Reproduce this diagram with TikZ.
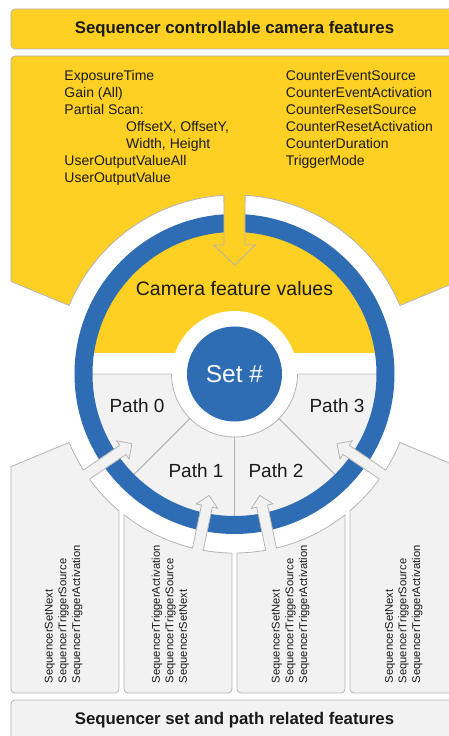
\documentclass[tikz,border=0pt]{standalone}
\usepackage{fontspec}
\setmainfont{Liberation Sans}
\usepackage{tikz}
\usetikzlibrary{calc}

\definecolor{seqyellow}{HTML}{FDD023}
\definecolor{seqblue}{HTML}{2E6DB4}
\definecolor{seqgray}{HTML}{F2F2F2}
\definecolor{seqline}{HTML}{B4B4B4}
\definecolor{seqtext}{HTML}{1A1A1A}

\begin{document}
\begin{tikzpicture}[x=1pt,y=1pt,
	yellowbox/.style={fill=seqyellow,draw=seqline,line width=0.8pt},
	graybox/.style={fill=seqgray,draw=seqline,line width=0.8pt},
	feat/.style={anchor=base west,inner sep=0pt,text=seqtext,font=\fontsize{14}{16.9}\selectfont},
	vfeat/.style={rotate=90,anchor=west,inner sep=0pt,text=seqtext,font=\fontsize{11.2}{13}\selectfont},
	pathlabel/.style={text=seqtext,font=\fontsize{19}{22}\selectfont},
	titlelabel/.style={text=seqtext,font=\fontsize{16.8}{20}\selectfont\bfseries},
	arrowcut/.style={insert path={-- ($(#1:179)+(#1-90:5.5)$) -- ($(#1:135)+(#1-90:5.5)$)
		-- ($(#1:135)+(#1-90:11)$) -- (#1:124) -- ($(#1:135)+(#1+90:11)$)
		-- ($(#1:135)+(#1+90:5.5)$) -- ($(#1:179)+(#1+90:5.5)$)}}]
				 %\draw[color=gray,step=10pt, help lines,opacity=0.3] (-234.5,-362) grid (214.5,374); %help grids
				 \useasboundingbox (-234.5,-362) rectangle (214.5,374);
				 \clip (-234.5,-362) rectangle (214.5,374);
				 % top bar
				 \draw[yellowbox,rounded corners=4pt] (-223.5,325) rectangle (223.5,365);
				 \node[titlelabel] (camtitle) at (0,345) {Sequencer controllable camera features};
				 % inside of the wheel
				 \fill[seqyellow] (8.05:150) arc[start angle=8.05,end angle=171.95,radius=150] -- cycle;
				 \fill[white] (0,0) circle (63);
				 \foreach \a in {180,225,270,315}
				 	\draw[graybox] (\a:63) -- (\a:150) arc[start angle=\a,end angle=\a+45,radius=150]
				 	-- (\a+45:63) arc[start angle=\a+45,end angle=\a,radius=63] -- cycle;
				 \node[circle,fill=seqblue,minimum size=95pt,inner sep=0pt,text=white,
				 	font=\fontsize{24.5}{28}\selectfont] (setnr) at (0,0) {Set \#};
				 \fill[seqblue,even odd rule] (0,0) circle (160) (0,0) circle (142);
				 % camera feature area with the big arrow
				 \draw[yellowbox] (-223.5,92.6) [rounded corners=4pt] -- (-223.5,318) -- (223.5,318)
				 	-- (223.5,92.6) [sharp corners] -- (22.5:179) arc[start angle=22.5,end angle=86.6,radius=179]
				 	-- (10.5,129) -- (21,129) -- (0,109) -- (-21,129) -- (-10.5,129)
				 	-- (93.4:179) arc[start angle=93.4,end angle=157.5,radius=179] -- cycle;
				 % path boxes with their arrows
				 \draw[graybox] (-223.5,-92.6) -- (202.5:179) arc[start angle=202.5,end angle=212.44,radius=179]
				 	[arrowcut=214.2] arc[start angle=215.96,end angle=229.8,radius=179]
				 	-- (-115.5,-300) [rounded corners=4pt] -- (-115.5,-319) -- (-223.5,-319) -- (-223.5,-300) [sharp corners] -- cycle;
				 \draw[graybox] (231.9:179) arc[start angle=231.9,end angle=256.44,radius=179]
				 	[arrowcut=258.2] arc[start angle=259.96,end angle=269.2,radius=179]
				 	-- (-2.5,-300) [rounded corners=4pt] -- (-2.5,-319) -- (-110.5,-319) -- (-110.5,-300) [sharp corners] -- cycle;
				 \draw[graybox] (270.8:179) arc[start angle=270.8,end angle=280.04,radius=179]
				 	[arrowcut=281.8] arc[start angle=283.56,end angle=308.1,radius=179]
				 	-- (110.5,-300) [rounded corners=4pt] -- (110.5,-319) -- (2.5,-319) -- (2.5,-300) [sharp corners] -- cycle;
				 \draw[graybox] (310.2:179) arc[start angle=310.2,end angle=324.04,radius=179]
				 	[arrowcut=325.8] arc[start angle=327.56,end angle=337.5,radius=179]
				 	-- (223.5,-92.6) -- (223.5,-300) [rounded corners=4pt] -- (223.5,-319) -- (115.5,-319) -- (115.5,-300) [sharp corners] -- cycle;
				 % bottom bar
				 \draw[graybox,rounded corners=4pt] (-223.5,-326) rectangle (223.5,-400);
				 \node[titlelabel] (pathtitle) at (0,-346) {Sequencer set and path related features};
				 % labels
				 \node[text=seqtext,font=\fontsize{19.5}{23}\selectfont] (values) at (0,85) {Camera feature values};
				 \node[pathlabel] (path0) at (-97.5,-32) {Path 0};
				 \node[pathlabel] (path1) at (-38.5,-97) {Path 1};
				 \node[pathlabel] (path2) at (41.5,-97) {Path 2};
				 \node[pathlabel] (path3) at (102.5,-32) {Path 3};
				 \node[feat] (f1) at (-170.2,293.3) {ExposureTime};
				 \node[feat] (f2) at (-170.2,276.4) {Gain (All)};
				 \node[feat] (f3) at (-170.2,259.5) {Partial Scan:};
				 \node[feat] (f4) at (-108.5,242.6) {OffsetX, OffsetY,};
				 \node[feat] (f5) at (-108.5,225.7) {Width, Height};
				 \node[feat] (f6) at (-170.2,208.8) {UserOutputValueAll};
				 \node[feat] (f7) at (-170.2,191.9) {UserOutputValue};
				 \node[feat] (c1) at (51.2,293.3) {CounterEventSource};
				 \node[feat] (c2) at (51.2,276.4) {CounterEventActivation};
				 \node[feat] (c3) at (51.2,259.5) {CounterResetSource};
				 \node[feat] (c4) at (51.2,242.6) {CounterResetActivation};
				 \node[feat] (c5) at (51.2,225.7) {CounterDuration};
				 \node[feat] (c6) at (51.2,208.8) {TriggerMode};
				 \foreach \x [count=\b] in {-184.5,42.5,155.5}{
				 	\foreach \t [count=\i] in {SequencerSetNext,SequencerTriggerSource,SequencerTriggerActivation}
				 		\node[vfeat] (s\b-\i) at ({\x+13.6*(\i-1)},-309.5) {\t};
				 }
				 \foreach \t [count=\i] in {SequencerTriggerActivation,SequencerTriggerSource,SequencerSetNext}
				 	\node[vfeat] (r-\i) at ({-77.5+13.6*(\i-1)},-309.5) {\t};
\end{tikzpicture}
\end{document}
